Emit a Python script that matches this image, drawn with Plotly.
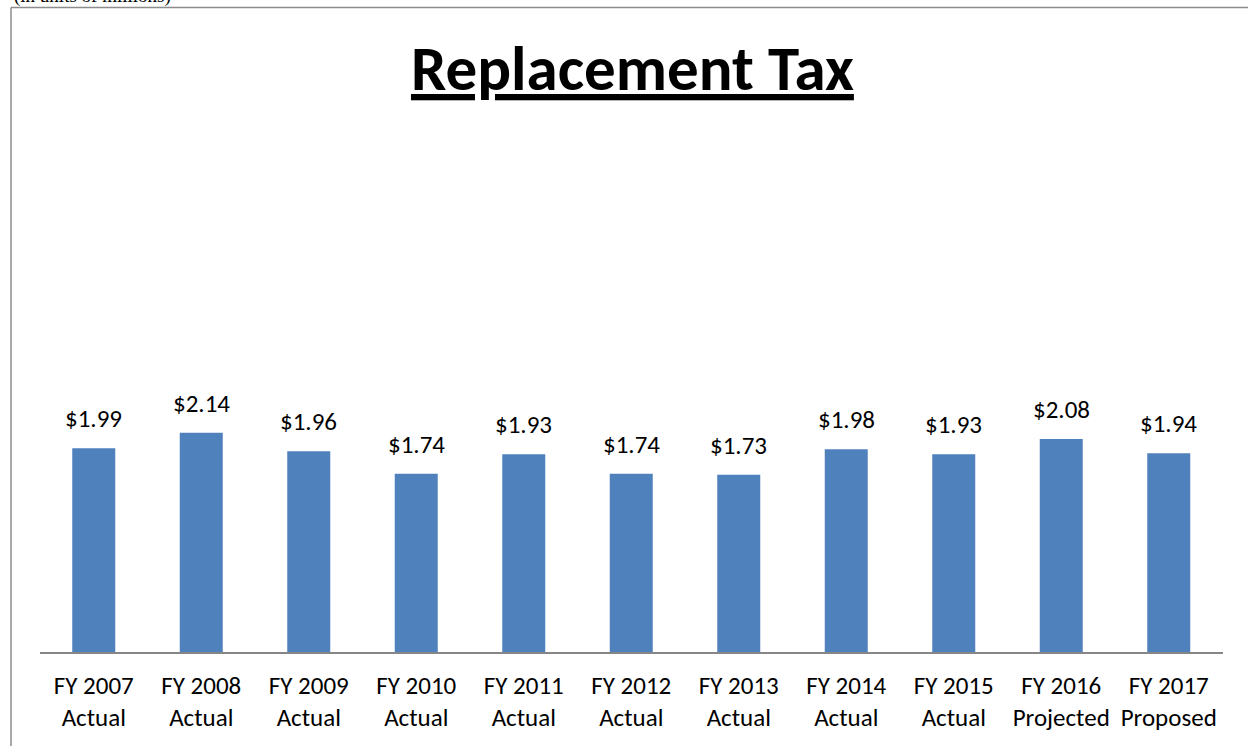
import plotly.graph_objects as go

# Fiscal-year categories and revenue values (in millions)
years = ["FY 2007", "FY 2008", "FY 2009", "FY 2010", "FY 2011", "FY 2012",
         "FY 2013", "FY 2014", "FY 2015", "FY 2016", "FY 2017"]
status = ["Actual", "Actual", "Actual", "Actual", "Actual", "Actual",
          "Actual", "Actual", "Actual", "Projected", "Proposed"]
values = [1.99, 2.14, 1.96, 1.74, 1.93, 1.74, 1.73, 1.98, 1.93, 2.08, 1.94]

categories = [f"{y}<br>{s}" for y, s in zip(years, status)]
labels = [f"${v:.2f}" for v in values]

W, H = 1248, 746
FONT = "Carlito, Lato, sans-serif"

fig = go.Figure(
    go.Bar(
        x=categories,
        y=values,
        marker=dict(color="#4F81BD", line=dict(width=0)),
        width=0.4,
        cliponaxis=False,
        hoverinfo="skip",
    )
)

# Value labels sitting above each bar
value_labels = [
    dict(
        x=c, y=v, xref="x", yref="y",
        text=t, showarrow=False,
        xanchor="center", yanchor="bottom", yshift=12,
        font=dict(family=FONT, size=25, color="black"),
    )
    for c, v, t in zip(categories, values, labels)
]

# Plot area: x from 40 to 1222 px, baseline at 652 px, top at 140 px
fig.update_layout(
    width=W,
    height=H,
    margin=dict(l=0, r=0, t=0, b=0),
    paper_bgcolor="white",
    plot_bgcolor="white",
    showlegend=False,
    xaxis=dict(
        domain=[40 / W, 1222.5 / W],
        showline=True,
        linecolor="#868686",
        linewidth=1.5,
        ticks="",
        showgrid=False,
        tickfont=dict(family=FONT, size=25, color="black"),
        ticklabelstandoff=10,
    ),
    yaxis=dict(
        domain=[1 - 652 / H, 1 - 140 / H],
        range=[0, 5],
        visible=False,
        showgrid=False,
    ),
    annotations=value_labels + [
        dict(
            text="<b><u>Replacement Tax</u></b>",
            xref="paper", yref="paper",
            x=632 / W, y=1 - 68 / H,
            xanchor="center", yanchor="middle",
            showarrow=False,
            font=dict(family=FONT, size=63, color="black"),
        ),
        dict(
            text="(in units of millions)",
            xref="paper", yref="paper",
            x=12 / W, y=1 + 4 / H,
            xanchor="left", yanchor="middle",
            showarrow=False,
            font=dict(family="Liberation Serif, Times New Roman, serif", size=19, color="black"),
        ),
    ],
    shapes=[
        dict(type="line", xref="paper", yref="paper",
             x0=11 / W, x1=11 / W, y0=0, y1=1 - 7.5 / H,
             line=dict(color="#8C8C8C", width=1.5)),
        dict(type="line", xref="paper", yref="paper",
             x0=11 / W, x1=1, y0=1 - 7.5 / H, y1=1 - 7.5 / H,
             line=dict(color="#8C8C8C", width=1.5)),
    ],
)

fig.write_html("out.html")
